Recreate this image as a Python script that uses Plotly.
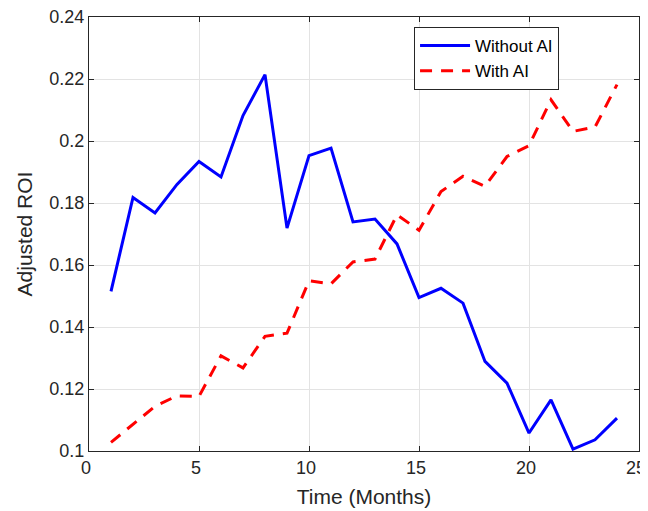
import plotly.graph_objects as go

months = list(range(1, 25))
without_ai = [0.1515, 0.1818, 0.1768, 0.1860, 0.1934, 0.1884, 0.2082, 0.2214,
              0.1719, 0.1953, 0.1977, 0.1739, 0.1748, 0.1668, 0.1495, 0.1525,
              0.1477, 0.1289, 0.1219, 0.1058, 0.1165, 0.1006, 0.1036, 0.1106]
with_ai = [0.1028, 0.1085, 0.1144, 0.1178, 0.1176, 0.1307, 0.1268, 0.1370,
           0.1380, 0.1549, 0.1539, 0.1610, 0.1619, 0.1762, 0.1712, 0.1837,
           0.1886, 0.1854, 0.1950, 0.1985, 0.2133, 0.2031, 0.2045, 0.2182]
x_ticks = [0, 5, 10, 15, 20, 25]
y_ticks = [0.1, 0.12, 0.14, 0.16, 0.18, 0.2, 0.22, 0.24]
y_tick_labels = ["0.1", "0.12", "0.14", "0.16", "0.18", "0.2", "0.22", "0.24"]

FONT = "Liberation Sans, Arial, sans-serif"

fig = go.Figure()
fig.add_trace(go.Scatter(x=months, y=without_ai, mode="lines", name="Without AI",
                         line=dict(color="#0000ff", width=3)))
fig.add_trace(go.Scatter(x=months, y=with_ai, mode="lines", name="With AI",
                         line=dict(color="#ff0000", width=3, dash="12px,9px")))

axis_common = dict(showline=True, linecolor="#262626", linewidth=1, mirror="ticks",
                   ticks="inside", ticklen=5, tickcolor="#262626",
                   showgrid=True, gridcolor="#e3e3e3", gridwidth=1, zeroline=False,
                   automargin=False, ticklabeloverflow="allow",
                   tickfont=dict(family=FONT, size=18, color="#262626"))

fig.update_xaxes(range=[0, 25], tickvals=x_ticks, ticklabelshift=-3,
                 title=dict(text="Time (Months)", font=dict(family=FONT, size=21, color="#262626"), standoff=12),
                 **axis_common)
fig.update_yaxes(range=[0.1, 0.24], tickvals=y_ticks, ticktext=y_tick_labels,
                 title=dict(text="Adjusted ROI", font=dict(family=FONT, size=21, color="#262626"), standoff=11),
                 **axis_common)

fig.update_layout(
    width=640, height=503,
    margin=dict(l=81, r=9, t=9, b=60),
    paper_bgcolor="white", plot_bgcolor="white",
    showlegend=True,
    legend=dict(x=0.591, y=0.977, xanchor="left", yanchor="top",
                bgcolor="white", bordercolor="#262626", borderwidth=1,
                font=dict(family=FONT, size=17, color="#000000"),
                itemwidth=50, tracegroupgap=0),
)

fig.write_html("out.html")
